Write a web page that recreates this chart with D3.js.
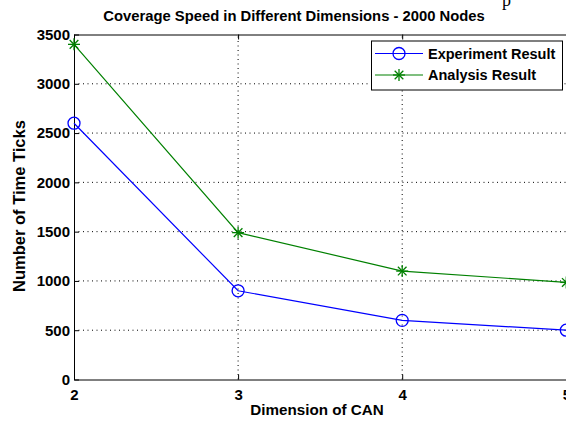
<!DOCTYPE html>
<html><head><meta charset="utf-8">
<script src="https://cdn.jsdelivr.net/npm/d3@7"></script>
<style>body{margin:0;background:#fff}svg{display:block;font-family:"Liberation Sans",Arial,sans-serif}</style>
</head><body>
<script>
const dims = [2, 3, 4, 5];
const experiment = [2600, 900, 600, 500];
const analysis = [3400, 1490, 1100, 985];
const yTicks = [0, 500, 1000, 1500, 2000, 2500, 3000, 3500];
const xTicks = [2, 3, 4, 5];
const seriesNames = ["Experiment Result", "Analysis Result"];

const W = 566, H = 421;
const m = {l: 74, r: 0, t: 34.5, b: 41.5};
const svg = d3.select("body").append("svg").attr("width", W).attr("height", H);
const x = d3.scaleLinear().domain([2, 5]).range([m.l, 566.3]);
const y = d3.scaleLinear().domain([0, 3500]).range([H - m.b, m.t]);
const x0 = m.l, x1 = 566.3, y0 = H - m.b, y1 = m.t;

// grid
const g = svg.append("g");
g.selectAll(".gx").data(xTicks.slice(1, -1)).join("line")
  .attr("x1", d => x(d)).attr("x2", d => x(d)).attr("y1", y0).attr("y2", y1)
  .attr("stroke", "#000").attr("stroke-width", 1).attr("stroke-dasharray", "1,3.5");
g.selectAll(".gy").data(yTicks.slice(1, -1)).join("line")
  .attr("y1", d => y(d)).attr("y2", d => y(d)).attr("x1", x0).attr("x2", x1)
  .attr("stroke", "#000").attr("stroke-width", 1).attr("stroke-dasharray", "1,3.5");

// axes
const axB = d3.axisBottom(x).tickValues(xTicks).tickFormat(d3.format("d")).tickSizeInner(-5).tickSizeOuter(0).tickPadding(9);
const axL = d3.axisLeft(y).tickValues(yTicks).tickFormat(d3.format("d")).tickSizeInner(-5).tickSizeOuter(0).tickPadding(4);
const axT = d3.axisTop(x).tickValues(xTicks).tickFormat("").tickSizeInner(-5).tickSizeOuter(0);
const gb = svg.append("g").attr("transform", `translate(0,${y0})`).call(axB);
const gl = svg.append("g").attr("transform", `translate(${x0},0)`).call(axL);
const gt = svg.append("g").attr("transform", `translate(0,${y1})`).call(axT);
[gb, gl, gt].forEach(a => {
  a.selectAll("path,line").attr("stroke", "#000").attr("stroke-width", 1);
  a.selectAll("text").attr("font-size", 15).attr("font-weight", "bold").attr("fill", "#000")
    .attr("font-family", "'Liberation Sans',Arial,sans-serif");
});
gb.selectAll("text").attr("dy", "0.75em");

// lines
const line = d3.line().x((d, i) => x(dims[i])).y(d => y(d));
svg.append("path").datum(analysis).attr("d", line).attr("fill", "none").attr("stroke", "#008000").attr("stroke-width", 1.2);
svg.append("path").datum(experiment).attr("d", line).attr("fill", "none").attr("stroke", "#0000ff").attr("stroke-width", 1.2);

function star(sel, cx, cy, r, col) {
  const gg = sel.append("g").attr("transform", `translate(${cx},${cy})`).attr("stroke", col).attr("stroke-width", 1.3);
  gg.append("line").attr("x1", -r).attr("x2", r).attr("y1", 0).attr("y2", 0);
  gg.append("line").attr("x1", 0).attr("x2", 0).attr("y1", -r).attr("y2", r);
  const d = r * 0.72;
  gg.append("line").attr("x1", -d).attr("x2", d).attr("y1", -d).attr("y2", d);
  gg.append("line").attr("x1", -d).attr("x2", d).attr("y1", d).attr("y2", -d);
}
analysis.forEach((v, i) => star(svg, x(dims[i]), y(v), 6, "#008000"));
svg.selectAll(".mk").data(experiment).join("circle")
  .attr("cx", (d, i) => x(dims[i])).attr("cy", d => y(d)).attr("r", 6)
  .attr("fill", "none").attr("stroke", "#0000ff").attr("stroke-width", 1.3);

// legend
const lg = svg.append("g");
lg.append("rect").attr("x", 371.5).attr("y", 41).attr("width", 191).attr("height", 49)
  .attr("fill", "#fff").attr("stroke", "#000").attr("stroke-width", 1);
const items = [{n: seriesNames[0], c: "#0000ff", t: "o"}, {n: seriesNames[1], c: "#008000", t: "*"}];
items.forEach((it, i) => {
  const cy = 53.5 + i * 21.5;
  lg.append("line").attr("x1", 375).attr("x2", 423).attr("y1", cy).attr("y2", cy).attr("stroke", it.c).attr("stroke-width", 1.2);
  if (it.t === "o") lg.append("circle").attr("cx", 399).attr("cy", cy).attr("r", 6).attr("fill", "none").attr("stroke", it.c).attr("stroke-width", 1.3);
  else star(lg, 399, cy, 6, it.c);
  lg.append("text").attr("x", 428).attr("y", cy).attr("dy", "0.36em").attr("font-size", 14.5).attr("font-weight", "bold").text(it.n);
});

// titles
svg.append("text").attr("x", 294).attr("y", 21).attr("text-anchor", "middle").attr("font-size", 14.8).attr("font-weight", "bold").text("Coverage Speed in Different Dimensions - 2000 Nodes");
svg.append("text").attr("x", 317).attr("y", 415).attr("text-anchor", "middle").attr("font-size", 15.2).attr("font-weight", "bold").text("Dimension of CAN");
svg.append("text").attr("transform", "translate(25,206) rotate(-90)").attr("text-anchor", "middle").attr("font-size", 16.5).attr("font-weight", "bold").text("Number of Time Ticks");
svg.append("text").attr("x", 502).attr("y", 6).attr("font-size", 18).attr("font-family", "'Liberation Serif',serif").text("p");
</script>
</body></html>
